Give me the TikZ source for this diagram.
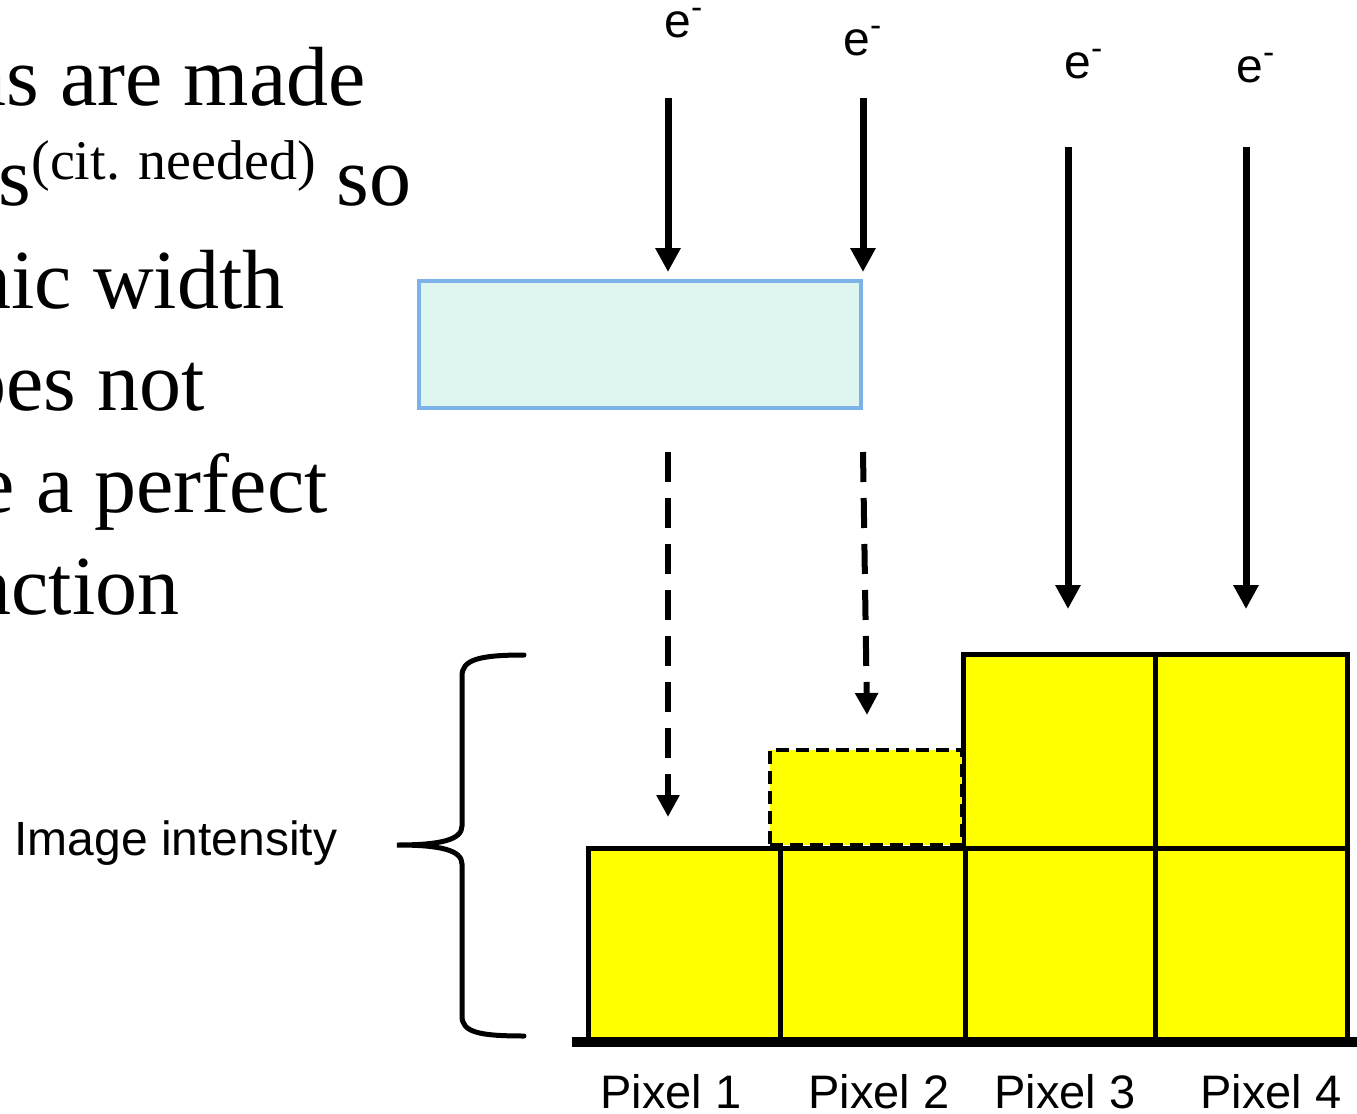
\documentclass[tikz,border=0pt]{standalone}
\usepackage{fontspec}
\setmainfont{Liberation Serif}
\newfontfamily\sansf{Liberation Sans}
\usetikzlibrary{arrows.meta}
\definecolor{boxfill}{RGB}{222,245,240}
\definecolor{boxline}{RGB}{125,178,232}
\definecolor{pixyellow}{RGB}{255,255,0}
\tikzset{
  pix/.style={draw=black, fill=pixyellow, line width=2.5pt, inner sep=0pt, outer sep=0pt},
  pixdash/.style={pix, dash pattern=on 6.5pt off 3.5pt, line width=2pt},
  beam/.style={line width=3.5pt, -{Triangle[width=12pt,length=12pt]}},
  beamdash/.style={line width=3pt, dash pattern=on 15pt off 8pt, -{Triangle[width=11pt,length=11pt]}},
  elabel/.style={font=\sansf\fontsize{24}{26}\selectfont, inner sep=0pt, anchor=base west},
  pixlabel/.style={font=\sansf\fontsize{23.5}{26}\selectfont, inner sep=0pt, anchor=base},
  bodytext/.style={font=\fontsize{42}{46}\selectfont, inner sep=0pt, anchor=base east},
}
\begin{document}
\begin{tikzpicture}[x=0.5pt,y=-0.5pt]
\path[use as bounding box, fill=white] (0,0) rectangle (1357,1114);

% left text (clipped at the page edge)
\begin{scope}
\clip (0,0) rectangle (1357,1114);
\node[bodytext] (l1) at (366,105) {ns are made};
\node[bodytext] (l2) at (412,205) {s\raisebox{13pt}{\fontsize{28}{30}\selectfont(cit. needed)} so};
\node[bodytext] (l3) at (285,308) {nic width};
\node[bodytext] (l4) at (205,410) {oes not};
\node[bodytext] (l5) at (328,512) {e a perfect};
\node[bodytext] (l6) at (180,614) {nction};
\end{scope}

% electron labels
\node[elabel] (e1) at (664,37) {e\textsuperscript{-}};
\node[elabel] (e2) at (843,55) {e\textsuperscript{-}};
\node[elabel] (e3) at (1064,78) {e\textsuperscript{-}};
\node[elabel] (e4) at (1236,82) {e\textsuperscript{-}};

% blue box
\node[draw=boxline, fill=boxfill, line width=2pt, inner sep=0pt, outer sep=0pt,
      minimum width=221pt, minimum height=63.5pt] (box) at (640,344.5) {};

% pixel columns
\node[pix, minimum width=96pt, minimum height=96pt] (p1) at (684,944) {};
\node[pix, minimum width=92.5pt, minimum height=96pt] (p2) at (872.5,944) {};
\node[pix, minimum width=95pt, minimum height=96pt] (p3) at (1060,944) {};
\node[pix, minimum width=96pt, minimum height=96pt] (p4) at (1251,944) {};
\node[pix, minimum width=96pt, minimum height=97pt] (p3t) at (1059,751) {};
\node[pix, minimum width=96pt, minimum height=97pt] (p4t) at (1251,751) {};
\node[pixdash, minimum width=96pt, minimum height=47.5pt] (p2d) at (866,797.5) {};

% base line
\coordinate (b0) at (572,1042);
\coordinate (b1) at (1357,1042);
\draw[line width=5pt] (b0) -- (b1);

% arrow coordinates
\coordinate (s1) at (668,98);
\coordinate (s2) at (863,98);
\coordinate (s3) at (1068,147);
\coordinate (s4) at (1246,147);
\coordinate (d1) at (668,452);
\coordinate (d2) at (863,452);
\coordinate (t1) at (668,272);
\coordinate (t2) at (863,272);
\coordinate (t3) at (1068,609);
\coordinate (t4) at (1246,609);
\coordinate (u1) at (668,817);
\coordinate (u2) at (867,715);

\draw[beam] (s1) -- (t1);
\draw[beam] (s2) -- (t2);
\draw[beam] (s3) -- (t3);
\draw[beam] (s4) -- (t4);
\draw[beamdash] (d1) -- (u1);
\draw[beamdash] (d2) -- (u2);

% brace
\draw[line width=2.5pt, line cap=round]
  (524,655) .. controls (478,655) and (462,660) .. (462,676)
  -- (462,826) .. controls (462,840) and (440,845) .. (397,845)
  .. controls (440,845) and (462,850) .. (462,864)
  -- (462,1016) .. controls (462,1032) and (478,1036) .. (524,1036);
\node[font=\sansf\fontsize{24}{26}\selectfont, inner sep=0pt, anchor=base west] (ii) at (14,855) {Image intensity};

% pixel labels
\node[pixlabel] (n1) at (671,1108) {Pixel 1};
\node[pixlabel] (n2) at (879,1108) {Pixel 2};
\node[pixlabel] (n3) at (1065,1108) {Pixel 3};
\node[pixlabel] (n4) at (1271,1108) {Pixel 4};
\end{tikzpicture}
\end{document}
